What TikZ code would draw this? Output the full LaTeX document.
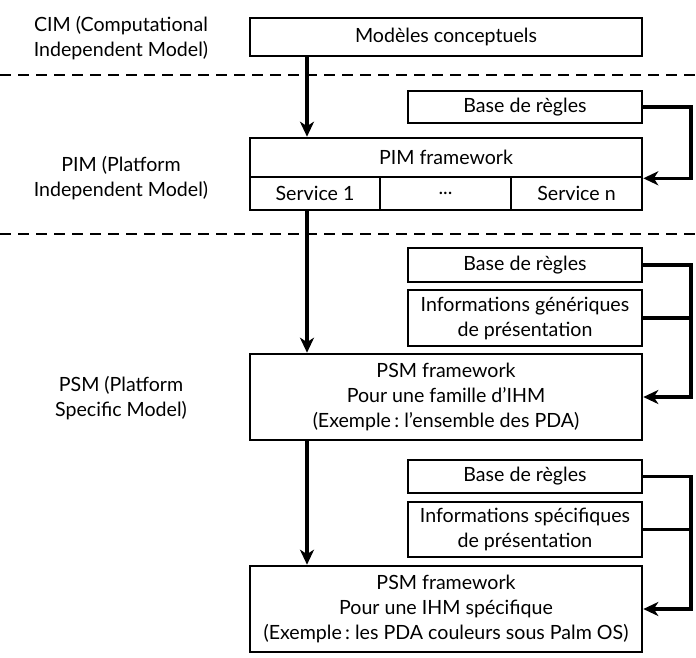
\documentclass[tikz,border=0pt]{standalone}
\usepackage{fontspec}
\setmainfont{Lato}
\usetikzlibrary{arrows.meta,positioning}
\frenchspacing

\begin{document}
\begin{tikzpicture}[x=1pt, y=-1pt,
  every node/.style = {font=\fontsize{19.6}{25}\selectfont, align=center},
  box/.style = {draw, line width=2.6pt, inner sep=0pt, minimum height=#1},
  mainbox/.style = {box=#1, minimum width=392pt},
  sidebox/.style = {box=#1, minimum width=234pt},
  svcbox/.style = {draw, line width=2.6pt, inner sep=0pt, minimum width=131pt, minimum height=33pt},
  level/.style = {inner sep=0pt},
  sep/.style = {line width=2pt, dash pattern=on 11pt off 7pt},
  flow/.style = {line width=3.2pt, -{Stealth[length=15pt, width=14pt, inset=4.5pt]}},
  feed/.style = {line width=3.2pt}]
\useasboundingbox (0,0) rectangle (696,657);

% levels
\node[level] (cim) at (121,38) {CIM (Computational\\Independent Model)};
\node[level] (pim) at (121,178) {PIM (Platform\\Independent Model)};
\node[level] (psm) at (121,398) {PSM (Platform\\Specific Model)};

\draw[sep] (0,75) -- (696,75);
\draw[sep] (0,234) -- (696,234);

% boxes
\node[mainbox=38pt] (concept) at (446,37) {Modèles conceptuels};
\node[mainbox=39pt] (pimfw) at (446,157.5) {PIM framework};
\node[svcbox, minimum width=130pt] (svc1) at (315,193.5) {Service 1};
\node[svcbox] (svcdots) at (445.5,193.5) {...};
\node[svcbox] (svcn) at (576.5,193.5) {Service n};
\node[sidebox=32pt] (base1) at (525,107) {Base de règles};

\node[sidebox=34pt] (base2) at (525,265) {Base de règles};
\node[sidebox=56pt] (infogen) at (525,318) {Informations génériques\\de présentation};
\node[mainbox=86pt] (psmfam) at (446,397) {PSM framework\\Pour une famille d’IHM\\(Exemple\,: l’ensemble des PDA)};

\node[sidebox=33pt] (base3) at (525,476.5) {Base de règles};
\node[sidebox=55pt] (infospe) at (525,529.5) {Informations spécifiques\\de présentation};
\node[mainbox=86pt] (psmspe) at (446,609) {PSM framework\\Pour une IHM spécifique\\(Exemple\,: les PDA couleurs sous Palm OS)};

\coordinate (spine) at (307,0);
\coordinate (rail) at (691,0);

% arrows
\draw[flow] (concept.south -| spine) -- (pimfw.north -| spine);
\draw[flow] (svc1.south -| spine) -- (psmfam.north -| spine);
\draw[flow] (psmfam.south -| spine) -- (psmspe.north -| spine);

\draw[flow] (base1.east) -| (rail |- pimfw.south) -- (pimfw.south east);
\draw[flow] (base2.east) -| (rail |- psmfam.east) -- (psmfam.east);
\draw[feed] (infogen.east) -- (infogen.east -| rail);
\draw[flow] (base3.east) -| (rail |- psmspe.east) -- (psmspe.east);
\draw[feed] (infospe.east) -- (infospe.east -| rail);

\end{tikzpicture}
\end{document}
